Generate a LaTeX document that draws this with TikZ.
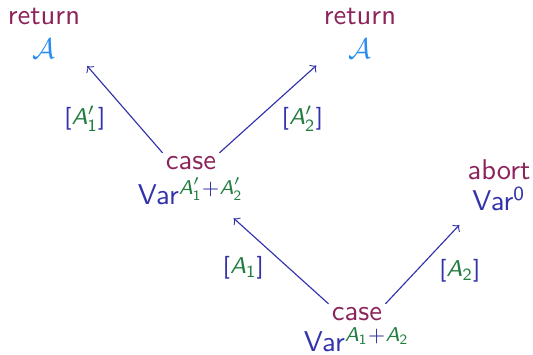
\documentclass[tikz,border=0pt]{standalone}
\usepackage{amsmath}
\usetikzlibrary{positioning}
\definecolor{kwcol}{RGB}{140,35,90}
\definecolor{varcol}{RGB}{50,50,170}
\definecolor{tycol}{RGB}{35,125,65}
\definecolor{calcol}{RGB}{40,140,240}
\newcommand{\tyA}{\text{\sffamily\itshape A}}
\newcommand{\tyn}[1]{\text{\sffamily #1}}
\newcommand{\ty}[1]{\textcolor{tycol}{#1}}

\begin{document}
\begin{tikzpicture}[x=0.35pt,y=-0.35pt,font=\sffamily,
    kw/.style={text=kwcol,inner sep=1pt},
    tm/.style={text=varcol,inner sep=1pt},
    lbl/.style={text=varcol,inner sep=1pt,font=\sffamily\footnotesize},
    edge/.style={->,varcol,thin}]
  \useasboundingbox (0,0) rectangle (533,355);
  % conclusions at the top
  \node[kw,align=center] (retL) at (44,33) {return\\\textcolor{calcol}{$\mathcal{A}$}};
  \node[kw,align=center] (retR) at (360,33) {return\\\textcolor{calcol}{$\mathcal{A}$}};
  % middle case
  \node[kw] (caseM) at (191,163) {case};
  \node[tm,below=0.5pt of caseM] (caseMv)
     {Var$^{\ty{\tyA'_{\tyn{1}}}+\ty{\tyA'_{\tyn{2}}}}$};
  \node[kw] (abort) at (499,170) {abort};
  \node[tm,below=0pt of abort] (abortv) {Var$^{\tyn{0}}$};
  % bottom case
  \node[kw] (caseB) at (357,314) {case};
  \node[tm,below=0pt of caseB] (caseBv)
     {Var$^{\ty{\tyA_{\tyn{1}}}+\ty{\tyA_{\tyn{2}}}}$};
  % edges
  \draw[edge,shorten >=2pt] (caseM.north west) -- (retL.south east)
     node[lbl,midway,anchor=east,xshift=-5pt,yshift=-4pt] {[$\ty{\tyA'_{\tyn{1}}}$]};
  \draw[edge,shorten >=2pt] (caseM.north east) -- (retR.south west)
     node[lbl,midway,anchor=west,xshift=3pt,yshift=-4pt] {[$\ty{\tyA'_{\tyn{2}}}$]};
  \draw[edge,shorten >=5pt] (caseB.north west) -- (caseMv.-28)
     node[lbl,midway,anchor=east,xshift=-3pt,yshift=-4pt] {[$\ty{\tyA_{\tyn{1}}}$]};
  \draw[edge,shorten >=5pt] (caseB.north east) -- (abortv.south west)
     node[lbl,midway,anchor=west,xshift=3pt,yshift=-4pt] {[$\ty{\tyA_{\tyn{2}}}$]};
\end{tikzpicture}
\end{document}
